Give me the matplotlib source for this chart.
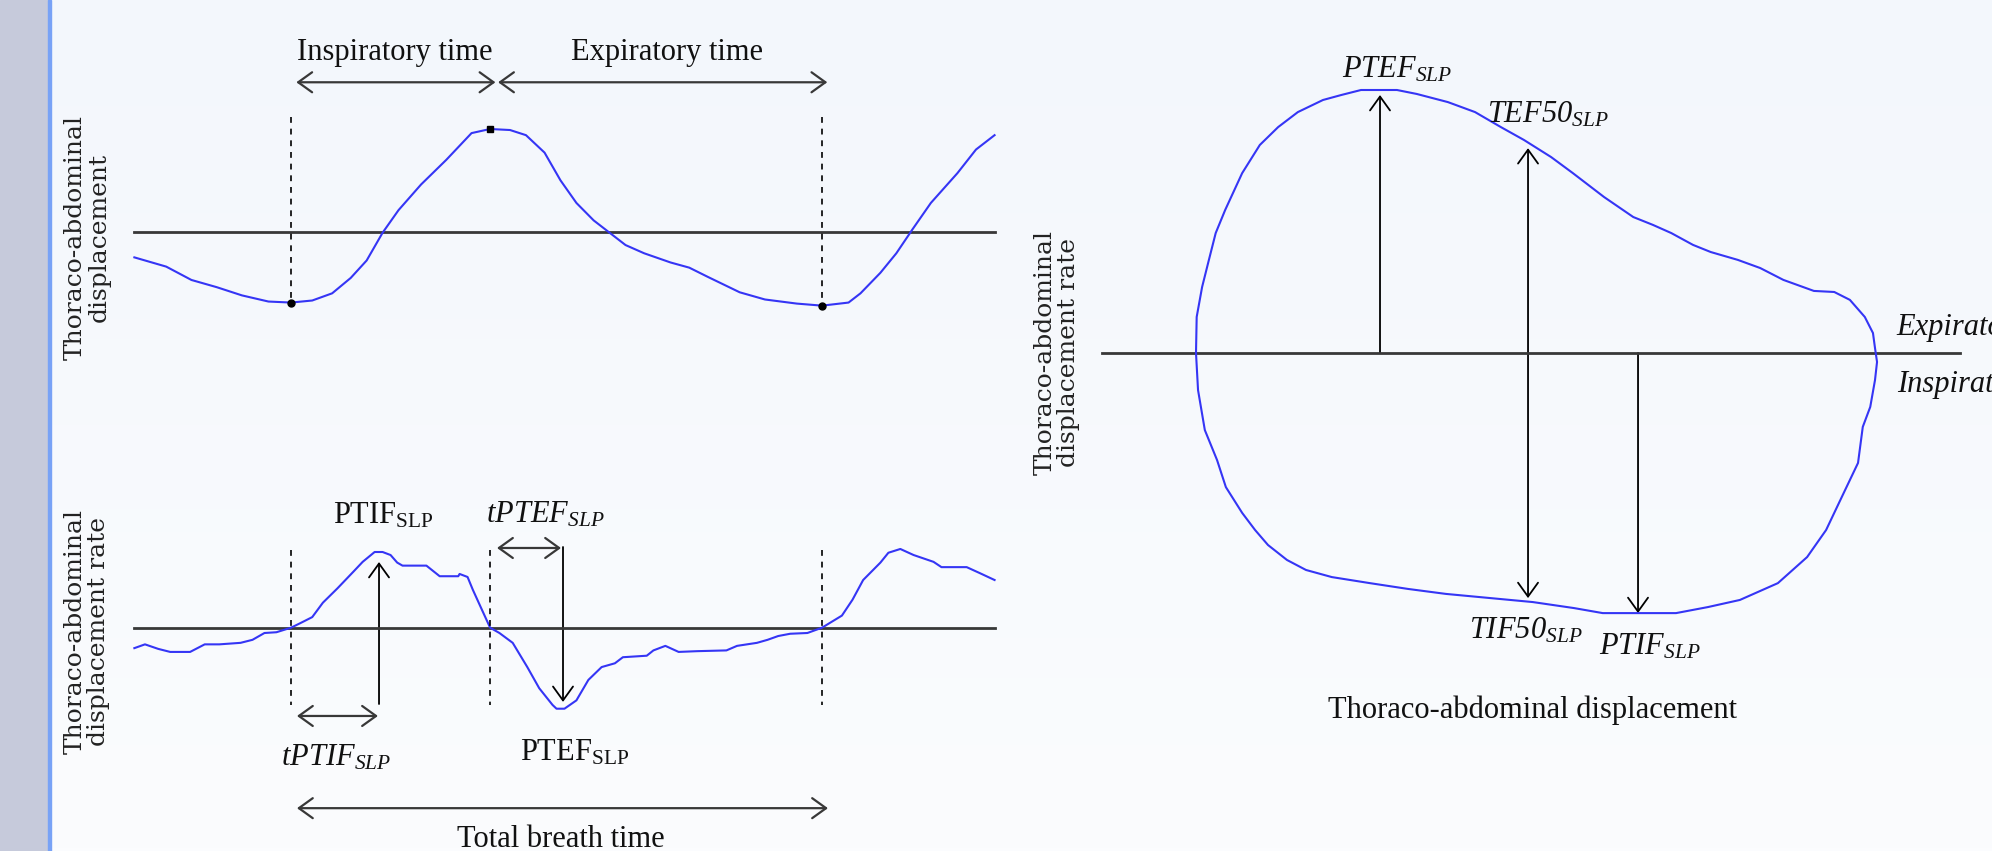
import matplotlib
matplotlib.use("Agg")
import matplotlib.pyplot as plt
import numpy as np
from matplotlib.patches import FancyArrowPatch, Rectangle

W, H = 1992, 851
SERIF = "Liberation Serif"
plt.rcParams["mathtext.fontset"] = "custom"
plt.rcParams["mathtext.rm"] = SERIF
plt.rcParams["mathtext.it"] = SERIF + ":italic"
plt.rcParams["mathtext.bf"] = SERIF + ":bold"
# \mathsf is used as "italic incl. digits" (mathtext sets digits upright in \mathit)
plt.rcParams["mathtext.sf"] = SERIF + ":italic"

# breath events (s): start of inspiration, end of inspiration, end of expiration
T_EVENTS = [0.0, 1.5, 4.0]

# thoraco-abdominal displacement vs time (arbitrary units, peak = 1)
disp_t = [-1.18, -0.94, -0.75, -0.56, -0.37, -0.17, 0.00, 0.16, 0.31, 0.45, 0.57,
          0.69, 0.81, 0.98, 1.17, 1.36, 1.50, 1.65, 1.77, 1.91, 2.03, 2.15, 2.28,
          2.40, 2.52, 2.66, 2.86, 3.00, 3.14, 3.38, 3.57, 3.81, 4.00, 4.20, 4.29,
          4.44, 4.56, 4.68, 4.82, 5.02, 5.16, 5.30]
disp_v = [-0.25, -0.34, -0.47, -0.54, -0.62, -0.68, -0.69, -0.67, -0.60, -0.45, -0.28,
          -0.01, 0.21, 0.46, 0.70, 0.96, 1.00, 0.99, 0.94, 0.77, 0.50, 0.28, 0.11,
          -0.01, -0.13, -0.21, -0.30, -0.35, -0.44, -0.59, -0.66, -0.70, -0.72, -0.69, -0.60,
          -0.40, -0.21, 0.02, 0.28, 0.57, 0.80, 0.94]

# displacement rate vs time (arbitrary units, PTIF = 1)
rate_t = [-1.18, -1.10, -1.00, -0.91, -0.76, -0.65, -0.54, -0.38, -0.29, -0.20, -0.11,
          0.00, 0.07, 0.16, 0.24, 0.35, 0.47, 0.54, 0.63, 0.69, 0.75, 0.80, 0.84,
          1.02, 1.12, 1.26, 1.27, 1.33, 1.37, 1.44, 1.50, 1.57, 1.67, 1.78, 1.87,
          1.97, 2.00, 2.06, 2.15, 2.24, 2.34, 2.44, 2.50, 2.68, 2.73, 2.82, 2.92,
          3.06, 3.28, 3.36, 3.51, 3.59, 3.67, 3.76, 3.89, 4.00, 4.15, 4.23, 4.31,
          4.44, 4.50, 4.59, 4.69, 4.84, 4.90, 5.09, 5.19, 5.30]
rate_v = [-0.27, -0.22, -0.28, -0.32, -0.32, -0.22, -0.22, -0.20, -0.16, -0.07, -0.06,
          0.00, 0.06, 0.14, 0.33, 0.52, 0.74, 0.87, 1.00, 1.00, 0.96, 0.86, 0.82,
          0.82, 0.68, 0.68, 0.71, 0.67, 0.50, 0.23, 0.00, -0.07, -0.20, -0.52, -0.80,
          -1.02, -1.07, -1.07, -0.96, -0.69, -0.52, -0.47, -0.39, -0.37, -0.30, -0.24, -0.32,
          -0.31, -0.30, -0.24, -0.20, -0.16, -0.11, -0.08, -0.07, 0.00, 0.16, 0.37, 0.63,
          0.86, 0.99, 1.04, 0.96, 0.87, 0.80, 0.80, 0.72, 0.63]

# loop: displacement (0..1) vs displacement rate (PTEF = 1)
loop_x = [0.000, 0.001, 0.009, 0.019, 0.029, 0.043, 0.068, 0.094, 0.121, 0.150, 0.187,
          0.214, 0.243, 0.296, 0.325, 0.371, 0.411, 0.449, 0.483, 0.523, 0.555, 0.601,
          0.644, 0.673, 0.700, 0.732, 0.758, 0.798, 0.831, 0.865, 0.910, 0.940, 0.963,
          0.985, 0.997, 1.000, 1.003, 1.000, 0.993, 0.982, 0.975, 0.951, 0.928, 0.900,
          0.857, 0.801, 0.754, 0.707, 0.655, 0.599, 0.557, 0.496, 0.434, 0.368, 0.312,
          0.256, 0.200, 0.162, 0.134, 0.106, 0.087, 0.068, 0.044, 0.031, 0.013, 0.003, 0.000]
loop_y = [0.000, 0.137, 0.251, 0.354, 0.456, 0.544, 0.684, 0.791, 0.859, 0.916, 0.962,
          0.981, 1.000, 1.000, 0.985, 0.954, 0.916, 0.859, 0.810, 0.745, 0.684, 0.593,
          0.517, 0.487, 0.456, 0.411, 0.384, 0.354, 0.323, 0.278, 0.236, 0.232, 0.202,
          0.137, 0.076, 0.019, -0.034, -0.103, -0.205, -0.281, -0.418, -0.548, -0.673, -0.776,
          -0.875, -0.939, -0.966, -0.989, -0.989, -0.989, -0.970, -0.947, -0.932, -0.916, -0.897,
          -0.875, -0.852, -0.825, -0.787, -0.730, -0.673, -0.608, -0.510, -0.407, -0.293, -0.141, 0.000]

# loop markers: (x, tip value)
PTEF_LOOP = (0.271, 0.981)
TEF50_LOOP = (0.489, 0.779)
TIF50_LOOP = (0.489, -0.932)
PTIF_LOOP = (0.651, -0.989)
# rate-trace markers
PTIF_T, PTIF_TIP = 0.663, 0.868
PTEF_T, PTEF_TIP = 2.049, -0.981

BLUE = "#3535f5"
AXC = "#383838"


def panel_axes(fig, x0, y0, sx, sy):
    # one transparent axes per panel covering the figure; (x0, y0) px is the data origin
    ax = fig.add_axes([0, 0, 1, 1])
    ax.set_xlim(-x0 / sx, (W - x0) / sx)
    ax.set_ylim((y0 - H) / sy, y0 / sy)
    ax.axis("off")
    ax.patch.set_alpha(0)
    return ax


def arrow(ax, p0, p1, style="->", color="black", lw=1.3):
    ax.add_patch(FancyArrowPatch(p0, p1, arrowstyle=f"{style},head_length=0.5,head_width=0.36",
                                 mutation_scale=20, color=color, lw=lw,
                                 shrinkA=0, shrinkB=0, clip_on=False))


def label(ax, x, y, s, size=22, ha="center", style="normal"):
    ax.text(x, y, s, fontsize=size, family=SERIF, ha=ha, va="baseline",
            style=style, color="#111111", clip_on=False)


def sub(main, low, italic=False):
    f = "mathsf" if italic else "mathrm"
    return rf"$\{f}{{{main}}}_{{\{f}{{{low}}}}}$"


fig = plt.figure(figsize=(W / 100, H / 100), dpi=100)

# background
bg = fig.add_axes([0, 0, 1, 1])
grad = np.linspace(0, 1, 256)[:, None]
bg.imshow(grad, aspect="auto", extent=[0, 1, 0, 1], origin="upper",
          cmap=matplotlib.colors.LinearSegmentedColormap.from_list("bg", ["#f3f7fc", "#fbfcfe"]))
bg.axis("off")
fig.add_artist(Rectangle((0, 0), 48 / W, 1, transform=fig.transFigure, color="#c6cadb", zorder=1))
fig.add_artist(Rectangle((48 / W, 0), 2.5 / W, 1, transform=fig.transFigure, color="#78a2f6", zorder=1))

# ---- top left: displacement vs time
a = panel_axes(fig, 291, 231.7, 132.75, 102.7)
a.plot([-1.18, 5.30], [0, 0], color=AXC, lw=2.0)
a.plot(disp_t, disp_v, color=BLUE, lw=1.5)
for t, top in zip(T_EVENTS, [1.117, 1.0, 1.117]):
    lo = np.interp(t, disp_t, disp_v) - 0.02
    a.plot([t, t], [top, lo], color="black", lw=1.2, ls=(0, (3.5, 3.5)))
ev_v = np.interp(T_EVENTS, disp_t, disp_v)
a.plot([T_EVENTS[0], T_EVENTS[2]], [ev_v[0], ev_v[2]], "o", color="black", ms=5, ls="none")
a.plot([T_EVENTS[1]], [ev_v[1]], "s", color="black", ms=4.5)
arrow(a, (0.04, 1.455), (1.54, 1.455), "<->", AXC, 1.6)
arrow(a, (1.56, 1.455), (4.04, 1.455), "<->", AXC, 1.6)
label(a, 0.78, 1.672, "Inspiratory time")
label(a, 2.83, 1.672, "Expiratory time")

# ---- bottom left: displacement rate vs time
b = panel_axes(fig, 291, 627.7, 132.75, 75.7)
b.plot([-1.18, 5.30], [0, 0], color=AXC, lw=2.0)
b.plot(rate_t, rate_v, color=BLUE, lw=1.5)
for t in T_EVENTS:
    b.plot([t, t], [1.026, -1.021], color="black", lw=1.2, ls=(0, (3.5, 3.5)))
arrow(b, (PTIF_T, -1.008), (PTIF_T, PTIF_TIP))
arrow(b, (PTEF_T, 1.066), (PTEF_T, PTEF_TIP))
arrow(b, (1.552, 1.053), (2.034, 1.053), "<->", AXC, 1.6)
arrow(b, (0.045, -1.166), (0.655, -1.166), "<->", AXC, 1.6)
arrow(b, (0.045, -2.384), (4.045, -2.384), "<->", AXC, 1.6)
label(b, 0.693, 1.37, sub("PTIF", "SLP"))
label(b, 1.913, 1.396, sub("tPTEF", "SLP", True))
label(b, 0.34, -1.816, sub("tPTIF", "SLP", True))
label(b, 2.14, -1.75, sub("PTEF", "SLP"))
label(b, 2.034, -2.90, "Total breath time")

# ---- right: rate vs displacement loop
c = panel_axes(fig, 1196, 353, 679, 263)
c.plot([-0.138, 1.125], [0, 0], color=AXC, lw=2.0)
c.plot(loop_x, loop_y, color=BLUE, lw=1.5)
for x, tip in (PTEF_LOOP, TEF50_LOOP, TIF50_LOOP, PTIF_LOOP):
    arrow(c, (x, 0), (x, tip))
label(c, 0.296, 1.049, sub("PTEF", "SLP", True))
label(c, 0.518, 0.875, sub("TEF50", "SLP", True))
label(c, 0.486, -1.084, sub("TIF50", "SLP", True))
label(c, 0.669, -1.148, sub("PTIF", "SLP", True))
label(c, 1.032, 0.068, "Expiratory", ha="left", style="italic")
label(c, 1.032, -0.148, "Inspiratory", ha="left", style="italic")
label(c, 0.496, -1.388, "Thoraco-abdominal displacement")

# vertical axis titles
for (px, py), s in [((87, 237), "Thoraco-abdominal\ndisplacement"),
                    ((87, 631), "Thoraco-abdominal\ndisplacement rate"),
                    ((1057, 353), "Thoraco-abdominal\ndisplacement rate")]:
    fig.text(px / W, 1 - py / H, s, rotation=90, ha="center", va="center",
             multialignment="center", fontsize=18, family="DejaVu Serif",
             color="#222222", linespacing=1.05)

fig.savefig("out.png", dpi=100)
